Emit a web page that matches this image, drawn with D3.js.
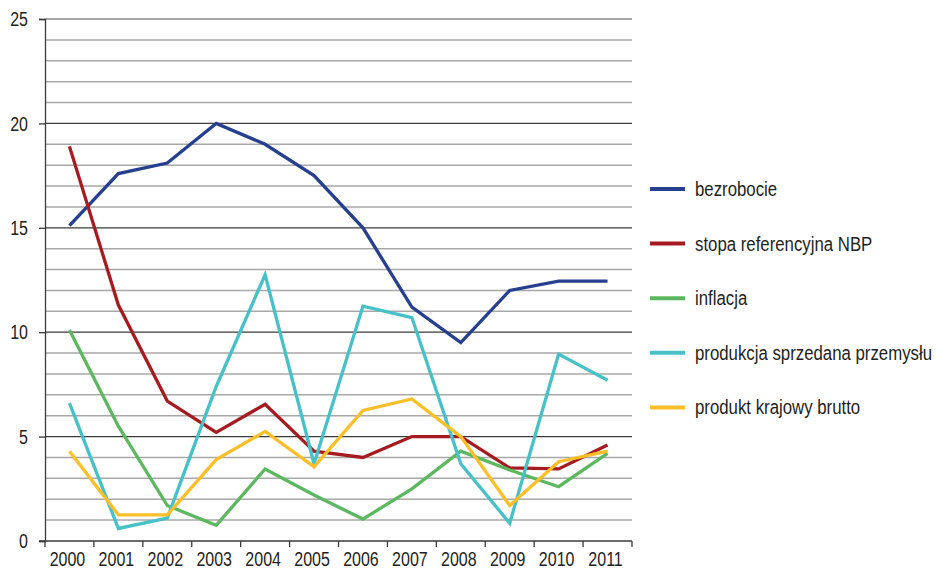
<!DOCTYPE html>
<html>
<head>
<meta charset="utf-8">
<script src="https://cdn.jsdelivr.net/npm/d3@7"></script>
<style>
  body { margin: 0; background: #fff; }
  text { font-family: "Liberation Sans", sans-serif; fill: #231f20; }
</style>
</head>
<body>
<svg id="chart"></svg>
<script>
// Data
const years = ["2000", "2001", "2002", "2003", "2004", "2005", "2006", "2007", "2008", "2009", "2010", "2011"];
const bezrobocie = [15.1, 17.6, 18.1, 20.0, 19.0, 17.5, 15.0, 11.2, 9.5, 12.0, 12.45, 12.45];
const stopaNBP = [18.9, 11.3, 6.7, 5.2, 6.55, 4.3, 4.0, 5.0, 5.0, 3.5, 3.45, 4.6];
const inflacja = [10.1, 5.5, 1.7, 0.75, 3.45, 2.2, 1.05, 2.5, 4.3, 3.4, 2.6, 4.2];
const produkcja = [6.6, 0.6, 1.1, 7.4, 12.75, 3.7, 11.25, 10.7, 3.7, 0.85, 8.95, 7.7];
const pkb = [4.3, 1.25, 1.25, 3.9, 5.25, 3.55, 6.25, 6.8, 5.0, 1.7, 3.8, 4.3];
const seriesNames = ["bezrobocie", "stopa referencyjna NBP", "inflacja", "produkcja sprzedana przemysłu", "produkt krajowy brutto"];
const yTicks = [0, 5, 10, 15, 20, 25];

const series = [
  { name: seriesNames[0], values: bezrobocie, color: "#263f8f" },
  { name: seriesNames[1], values: stopaNBP, color: "#a51b20" },
  { name: seriesNames[2], values: inflacja, color: "#5cb85f" },
  { name: seriesNames[3], values: produkcja, color: "#45c1c7" },
  { name: seriesNames[4], values: pkb, color: "#fcbf28" }
];

// Dimensions
const svg_width = 936;
const svg_height = 569;
const plot = { left: 45, right: 632, top: 19, bottom: 541 };
const squeeze = 0.8; // narrow look of the original font

const svg = d3.select("#chart")
  .attr("width", svg_width)
  .attr("height", svg_height);

// Scales
const xScale = d3.scaleBand()
  .domain(years)
  .range([plot.left, plot.right]);

const yScale = d3.scaleLinear()
  .domain([0, 25])
  .range([plot.bottom, plot.top]);

// Gridlines (minor every 1, major every 5)
const gridVals = d3.range(1, 26);
svg.append("g")
  .selectAll("line")
  .data(gridVals)
  .enter()
  .append("line")
  .attr("x1", plot.left)
  .attr("x2", plot.right)
  .attr("y1", d => yScale(d))
  .attr("y2", d => yScale(d))
  .attr("stroke", d => d === 25 ? "#8a8a8a" : (d % 5 === 0 ? "#3a3a3a" : "#a8a8a8"))
  .attr("stroke-width", d => d % 5 === 0 ? 1.3 : 1.5);

// Y axis
const yAxis = d3.axisLeft(yScale).tickValues(yTicks).tickSize(6).tickFormat("");
const yG = svg.append("g")
  .attr("transform", `translate(${plot.left}, 0)`)
  .call(yAxis);
yG.select(".domain").attr("stroke", "#3a3a3a").attr("stroke-width", 1.3);
yG.selectAll(".tick line").attr("stroke", "#3a3a3a").attr("stroke-width", 1.3);

svg.append("g")
  .selectAll("g")
  .data(yTicks)
  .enter()
  .append("g")
  .attr("transform", d => `translate(28, ${yScale(d)}) scale(${squeeze}, 1)`)
  .append("text")
  .attr("text-anchor", "end")
  .attr("dy", "0.36em")
  .style("font-size", "20px")
  .text(d => d);

// X axis with ticks at band boundaries
const xG = svg.append("g")
  .attr("transform", `translate(0, ${plot.bottom})`);
xG.append("line")
  .attr("x1", plot.left - 6)
  .attr("x2", plot.right)
  .attr("stroke", "#3a3a3a")
  .attr("stroke-width", 1.3);
xG.selectAll(".bound")
  .data(years.concat(["end"]))
  .enter()
  .append("line")
  .attr("class", "bound")
  .attr("x1", (d, i) => i < years.length ? xScale(d) : plot.right)
  .attr("x2", (d, i) => i < years.length ? xScale(d) : plot.right)
  .attr("y1", 0)
  .attr("y2", 6)
  .attr("stroke", "#3a3a3a")
  .attr("stroke-width", 1.3);
xG.selectAll(".lab")
  .data(years)
  .enter()
  .append("g")
  .attr("class", "lab")
  .attr("transform", d => `translate(${xScale(d) + xScale.bandwidth() / 2 - 2}, 25) scale(${squeeze}, 1)`)
  .append("text")
  .attr("text-anchor", "middle")
  .style("font-size", "20px")
  .text(d => d);

// Lines
const line = d3.line()
  .x((d, i) => xScale(years[i]) + xScale.bandwidth() / 2)
  .y(d => yScale(d));

svg.append("g")
  .selectAll("path")
  .data(series)
  .enter()
  .append("path")
  .attr("d", d => line(d.values))
  .attr("fill", "none")
  .attr("stroke", d => d.color)
  .attr("stroke-width", 3.3)
  .attr("stroke-linejoin", "miter");

// Legend
const legend = svg.append("g")
  .attr("transform", "translate(650, 189)");
const item = legend.selectAll("g")
  .data(series)
  .enter()
  .append("g")
  .attr("transform", (d, i) => `translate(0, ${i * 54.6})`);
item.append("line")
  .attr("x1", 0)
  .attr("x2", 35)
  .attr("stroke", d => d.color)
  .attr("stroke-width", 4);
item.append("g")
  .attr("transform", `translate(45, 0) scale(${squeeze}, 1)`)
  .append("text")
  .attr("dy", "0.33em")
  .style("font-size", "21px")
  .text(d => d.name);
</script>
</body>
</html>
